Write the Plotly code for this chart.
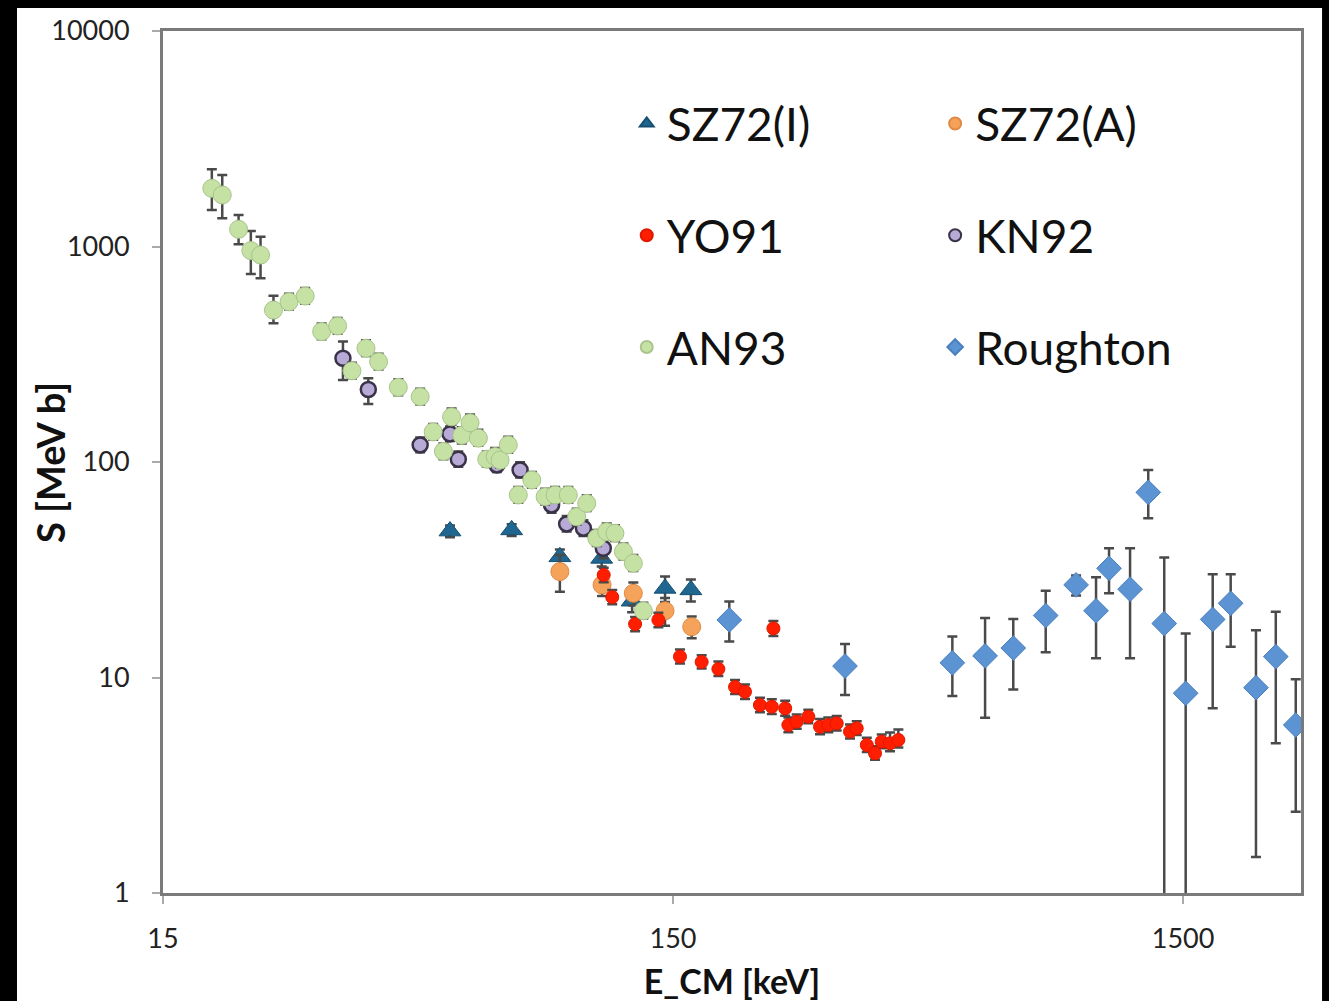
import plotly.graph_objects as go
import math

# ---------------- data ----------------
# AN93
an93_E = [18.7, 19.6, 21.1, 22.3, 23.3, 24.7, 26.5, 28.5, 30.7, 33.0, 35.2, 37.5, 39.7, 43.4,
          47.9, 50.8, 53.2, 55.2, 57.8, 60.0, 62.3, 64.7, 67.2, 68.7, 71.3, 74.6, 79.3, 84.2,
          88.1, 93.5, 97.1, 101.6, 106.3, 111.2, 115.4, 119.9, 125.4, 131.2]
an93_S = [1862, 1734, 1202, 957, 913, 507, 554, 589, 403, 428, 265, 337, 292, 222,
          201, 138, 112, 162, 133, 152, 129, 103, 106, 102, 120, 70.3, 82.5, 69.0,
          70.3, 70.3, 55.7, 64.3, 44.3, 47.5, 46.7, 38.4, 33.9, 20.4]
an93_up = [419, 413, 198, 223, 198, 84, 50, 53, 36, 38, 24, 30, 26, 20,
           18, 12, 10, 15, 12, 14, 12, 9, 10, 9, 11, 6.3, 7.4, 6.2,
           6.3, 6.3, 5.0, 5.8, 4.0, 4.3, 4.2, 3.5, 3.1, 1.8]
an93_dn = [385, 382, 178, 212, 201, 67, 44, 47, 32, 34, 21, 27, 23, 18,
           16, 11, 9, 13, 11, 12, 10, 8, 8.5, 8, 9.6, 5.6, 6.6, 5.5,
           5.6, 5.6, 4.5, 5.1, 3.5, 3.8, 3.7, 3.1, 2.7, 1.6]

# KN92
kn92_E = [33.8, 37.9, 47.9, 54.8, 56.9, 67.7, 75.2, 86.7, 92.8, 100.1, 109.5]
kn92_S = [303, 217, 120, 135, 103, 96.9, 91.8, 63.2, 51.6, 49.3, 39.8]
kn92_up = [59, 28, 10, 11, 9, 8, 8, 5.5, 4.5, 4.3, 4.5]
kn92_dn = [63, 31, 9, 10, 8, 7, 7, 5, 4, 3.9, 4]

# SZ72(I)
szi_E = [54.8, 72.4, 90.0, 108.7, 124.7, 144.7, 162.6]
szi_S = [47.8, 48.4, 36.3, 35.7, 22.6, 25.9, 25.5]
szi_up = [3, 3, 3, 3, 2.5, 3.5, 3]
szi_dn = [3, 3, 3, 3, 2.5, 3.5, 3]

# SZ72(A)
sza_E = [90.0, 108.9, 125.4, 144.7, 163.2]
sza_S = [31.0, 26.9, 24.6, 20.4, 17.2]
sza_up = [6, 3, 3, 3, 2]
sza_dn = [6, 3, 3, 3, 2]

# YO91
yo91_E = [109.7, 114.0, 126.4, 140.4, 154.8, 170.7, 184.1, 198.5, 207.6, 222.1, 234.3, 236.0,
          248.9, 252.5, 262.2, 276.3, 291.3, 302.4, 314.1, 333.5, 343.8, 359.8, 373.4, 384.9,
          399.6, 414.9]
yo91_S = [29.9, 23.6, 17.7, 18.5, 12.5, 11.8, 10.95, 9.03, 8.59, 7.45, 7.32, 16.9,
          7.19, 6.02, 6.24, 6.58, 5.91, 6.02, 6.13, 5.61, 5.81, 4.86, 4.45, 5.04,
          4.95, 5.13]
yo91_up = [2.4, 1.9, 1.4, 1.5, 1.0, 0.9, 0.9, 0.7, 0.7, 0.6, 0.6, 1.4,
           0.6, 0.5, 0.5, 0.5, 0.5, 0.5, 0.5, 0.45, 0.45, 0.4, 0.35, 0.4,
           0.6, 0.6]
yo91_dn = [2.2, 1.7, 1.3, 1.4, 0.9, 0.8, 0.8, 0.65, 0.65, 0.55, 0.55, 1.3,
           0.55, 0.45, 0.45, 0.45, 0.45, 0.45, 0.45, 0.4, 0.4, 0.35, 0.3, 0.35,
           0.4, 0.4]

# Roughton
rou_E = [193.4, 326.1, 529.4, 613.7, 697.0, 806.9, 925.5, 1012.8, 1074, 1181, 1282, 1378,
         1518, 1715, 1860, 2085, 2280, 2495]
rou_S = [18.5, 11.3, 11.7, 12.6, 13.7, 19.4, 26.9, 20.4, 32.1, 25.7, 72.3, 17.8,
         8.45, 18.6, 22.1, 8.97, 12.5, 6.02]
rou_up = [4.0, 3.0, 3.8, 6.3, 5.0, 5.9, 2.8, 8.8, 7.7, 14.1, 19.5, 18.2,
          7.55, 11.5, 8.0, 7.6, 7.7, 3.8]
rou_dn = [3.8, 3.0, 3.5, 6.1, 4.9, 6.3, 2.9, 8.1, 7.5, 13.4, 17.5, 17.6,
          8.4, 11.4, 8.2, 7.5, 7.55, 3.64]

x_ticks = [15, 150, 1500]
x_tick_text = ["15", "150", "1500"]
y_ticks = [1, 10, 100, 1000, 10000]
y_tick_text = ["1", "10", "100", "1000", "10000"]

FONT = "Lato, 'Open Sans', sans-serif"
ERR_COLOR = "#4a4a4a"


def err(up, dn, width=5, thick=2.5):
    return dict(type="data", symmetric=False, array=up, arrayminus=dn,
                color=ERR_COLOR, thickness=thick, width=width)


fig = go.Figure()

fig.add_trace(go.Scatter(
    x=szi_E, y=szi_S, mode="markers", name="SZ72(I)", legend="legend",
    legendgroup="a", legendrank=1,
    marker=dict(symbol="triangle-up", size=19, color="#1f6690",
                line=dict(color="#174f70", width=1)),
    error_y=err(szi_up, szi_dn)))

fig.add_trace(go.Scatter(
    x=kn92_E, y=kn92_S, mode="markers", name="KN92", legend="legend2",
    legendgroup="e", legendrank=2,
    marker=dict(symbol="circle", size=15, color="#b8aad6",
                line=dict(color="#3a3348", width=2.5)),
    error_y=err(kn92_up, kn92_dn)))

fig.add_trace(go.Scatter(
    x=sza_E, y=sza_S, mode="markers", name="SZ72(A)", legend="legend2",
    legendgroup="d", legendrank=1,
    marker=dict(symbol="circle", size=18, color="#f5a25a",
                line=dict(color="#e08a45", width=1)),
    error_y=err(sza_up, sza_dn)))

fig.add_trace(go.Scatter(
    x=yo91_E, y=yo91_S, mode="markers", name="YO91", legend="legend",
    legendgroup="b", legendrank=2,
    marker=dict(symbol="circle", size=13, color="#ff1e00",
                line=dict(color="#e01800", width=1)),
    error_y=err(yo91_up, yo91_dn)))

fig.add_trace(go.Scatter(
    x=an93_E, y=an93_S, mode="markers", name="AN93", legend="legend",
    legendgroup="c", legendrank=3,
    marker=dict(symbol="circle", size=18, color="#c6e1a4",
                line=dict(color="#a9c48c", width=1)),
    error_y=err(an93_up, an93_dn)))

fig.add_trace(go.Scatter(
    x=rou_E, y=rou_S, mode="markers", name="Roughton", legend="legend2",
    legendgroup="f", legendrank=3,
    marker=dict(symbol="diamond", size=19, color="#5b93d3",
                line=dict(color="#4a7fc0", width=1)),
    error_y=err(rou_up, rou_dn)))

legend_common = dict(
    font=dict(family=FONT, size=46, color="#111111"),
    bgcolor="rgba(0,0,0,0)", borderwidth=0,
    traceorder="grouped", tracegroupgap=49, itemsizing="constant",
    orientation="v", xanchor="left", yanchor="top",
)

fig.update_layout(
    width=1329, height=1001,
    paper_bgcolor="black", plot_bgcolor="white",
    margin=dict(l=163, r=28, t=31, b=108, autoexpand=False),
    font=dict(family=FONT, color="#222222"),
    showlegend=True,
    legend=dict(x=0.4075, y=0.935, **legend_common),
    legend2=dict(x=0.6785, y=0.935, **legend_common),
    shapes=[dict(type="rect", xref="paper", yref="paper",
                 x0=-0.1283, x1=1.0185, y0=-0.2, y1=1.0267,
                 fillcolor="white", line=dict(width=0), layer="below")],
    annotations=[dict(text="<b>S [MeV b]</b>", textangle=-90,
                      xref="paper", yref="paper", x=-0.0993, y=0.50,
                      xanchor="center", yanchor="middle", showarrow=False,
                      font=dict(family=FONT, size=38, color="#111111"))],
)

fig.update_xaxes(
    type="log", range=[math.log10(15), math.log10(2555)],
    tickvals=x_ticks, ticktext=x_tick_text, automargin=False,
    ticks="outside", ticklen=8, tickwidth=1.5, tickcolor="#aaaaaa",
    ticklabelstandoff=12,
    tickfont=dict(family=FONT, size=27, color="#222222"),
    showline=True, linecolor="#7a7a7a", linewidth=3, mirror=True,
    showgrid=False, zeroline=False,
    title=dict(text="<b>E_CM [keV]</b>", font=dict(family=FONT, size=34, color="#111111"),
               standoff=17),
)

fig.update_yaxes(
    type="log", range=[0, 4],
    tickvals=y_ticks, ticktext=y_tick_text, automargin=False,
    ticks="outside", ticklen=8, tickwidth=1.5, tickcolor="#aaaaaa",
    ticklabelstandoff=17,
    tickfont=dict(family=FONT, size=27, color="#222222"),
    showline=True, linecolor="#7a7a7a", linewidth=3, mirror=True,
    showgrid=False, zeroline=False,
)

fig.write_html("out.html")
